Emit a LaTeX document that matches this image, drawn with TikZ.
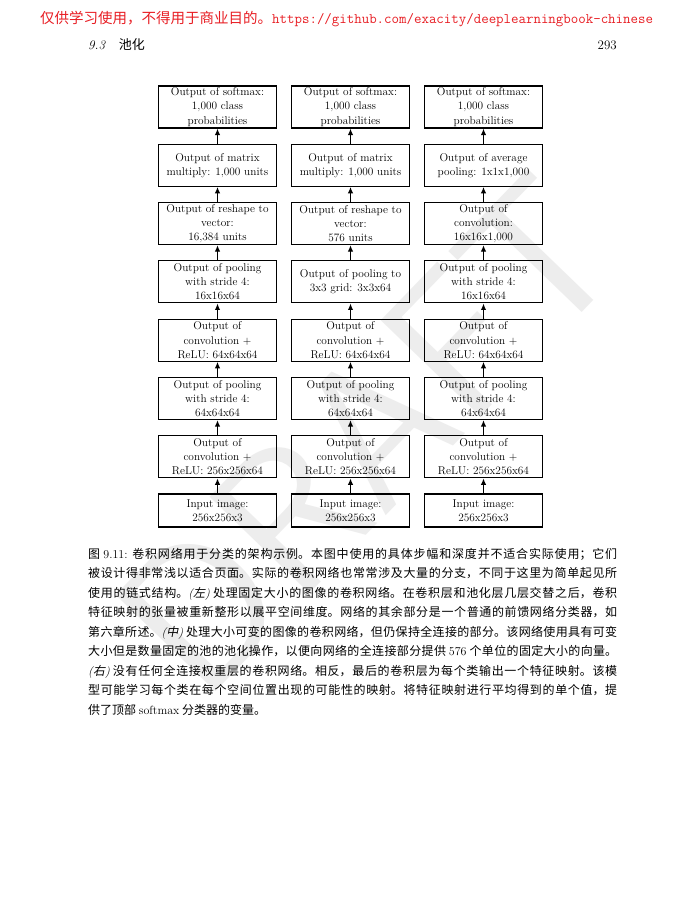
\documentclass[tikz,border=0pt]{standalone}
\usepackage{fontspec}
\usepackage{tikz}
\usepackage{xcolor}
\usetikzlibrary{
    arrows.meta,
    positioning
}
\newfontfamily\cjk{Noto Sans CJK SC}
\newfontfamily\cjkit{Noto Sans CJK SC}[FakeSlant=0.2]
\definecolor{urlred}{RGB}{232,30,36}
\newcommand{\sidelabel}[1]{{\rmfamily\itshape(}{\cjkit #1}{\rmfamily\itshape)}}
\tikzset{
    layer/.style={draw, line width=1.1pt, inner sep=0pt, minimum width=118pt,
        minimum height=42pt, align=center, font=\fontsize{11.3}{14.2}\selectfont},
    inlayer/.style={layer, minimum height=33pt},
    flow/.style={-{Latex[length=6.5pt, width=5.5pt]}, line width=1.3pt},
    watermark/.style={rotate=46, text=black!7, font=\fontsize{200}{200}\sffamily},
    captext/.style={anchor=base west, inner sep=0pt, text width=529pt, align=justify,
        font=\fontsize{12}{19.5}\selectfont\cjk}
}

\begin{document}
\begin{tikzpicture}[x=1pt, y=-1pt]
    \useasboundingbox (0,0) rectangle (700,900);
    \fill[white] (0,0) rectangle (700,900);
    \node[watermark] (wm) at (368,434) {DRAFT};

    \node[anchor=base west, inner sep=0pt, text=urlred, font=\fontsize{14.5}{14.5}\selectfont] (hd) at (40,23)
        {\cjk 仅供学习使用，不得用于商业目的。\ttfamily https://github.com/exacity/deeplearningbook-chinese};
    \node[anchor=base west, inner sep=0pt, font=\fontsize{13}{13}\selectfont] (sec) at (88,49)
        {\textit{9.3}\hspace{13pt}{\cjk 池化}};
    \node[anchor=base east, inner sep=0pt, font=\fontsize{13}{13}\selectfont] (pg) at (617,49) {293};

    \node[inlayer] (l1) at (217.5,510.5) {Input image:\\256x256x3};
    \node[layer] (l2) at (217.5,456.8) {Output of\\convolution $+$\\ReLU: 256x256x64};
    \node[layer] (l3) at (217.5,398.5) {Output of pooling\\with stride 4:\\64x64x64};
    \node[layer] (l4) at (217.5,340.2) {Output of\\convolution $+$\\ReLU: 64x64x64};
    \node[layer] (l5) at (217.5,281.9) {Output of pooling\\with stride 4:\\16x16x64};
    \node[layer] (l6) at (217.5,223.6) {Output of reshape to\\vector:\\16,384 units};
    \node[layer] (l7) at (217.5,165.3) {Output of matrix\\multiply: 1,000 units};
    \node[layer] (l8) at (217.5,107) {Output of softmax:\\1,000 class\\probabilities};

    \node[inlayer] (c1) at (350.5,510.5) {Input image:\\256x256x3};
    \node[layer] (c2) at (350.5,456.8) {Output of\\convolution $+$\\ReLU: 256x256x64};
    \node[layer] (c3) at (350.5,398.5) {Output of pooling\\with stride 4:\\64x64x64};
    \node[layer] (c4) at (350.5,340.2) {Output of\\convolution $+$\\ReLU: 64x64x64};
    \node[layer] (c5) at (350.5,281.9) {Output of pooling to\\3x3 grid: 3x3x64};
    \node[layer] (c6) at (350.5,223.6) {Output of reshape to\\vector:\\576 units};
    \node[layer] (c7) at (350.5,165.3) {Output of matrix\\multiply: 1,000 units};
    \node[layer] (c8) at (350.5,107) {Output of softmax:\\1,000 class\\probabilities};

    \node[inlayer] (r1) at (483.5,510.5) {Input image:\\256x256x3};
    \node[layer] (r2) at (483.5,456.8) {Output of\\convolution $+$\\ReLU: 256x256x64};
    \node[layer] (r3) at (483.5,398.5) {Output of pooling\\with stride 4:\\64x64x64};
    \node[layer] (r4) at (483.5,340.2) {Output of\\convolution $+$\\ReLU: 64x64x64};
    \node[layer] (r5) at (483.5,281.9) {Output of pooling\\with stride 4:\\16x16x64};
    \node[layer] (r6) at (483.5,223.6) {Output of\\convolution:\\16x16x1,000};
    \node[layer] (r7) at (483.5,165.3) {Output of average\\pooling: 1x1x1,000};
    \node[layer] (r8) at (483.5,107) {Output of softmax:\\1,000 class\\probabilities};

    \draw
    (l1) edge[flow] (l2)
    (l2) edge[flow] (l3)
    (l3) edge[flow] (l4)
    (l4) edge[flow] (l5)
    (l5) edge[flow] (l6)
    (l6) edge[flow] (l7)
    (l7) edge[flow] (l8);
    \draw
    (c1) edge[flow] (c2)
    (c2) edge[flow] (c3)
    (c3) edge[flow] (c4)
    (c4) edge[flow] (c5)
    (c5) edge[flow] (c6)
    (c6) edge[flow] (c7)
    (c7) edge[flow] (c8);
    \draw
    (r1) edge[flow] (r2)
    (r2) edge[flow] (r3)
    (r3) edge[flow] (r4)
    (r4) edge[flow] (r5)
    (r5) edge[flow] (r6)
    (r6) edge[flow] (r7)
    (r7) edge[flow] (r8);

    \node[captext] (cap) at (88,558) {\XeTeXlinebreaklocale "zh"\XeTeXlinebreakskip=0pt plus 2pt\XeTeXlinebreakpenalty=10000
图 {\rmfamily 9.11:} 卷积网络用于分类的架构示例。本图中使用的具体步幅和深度并不适合实际使用；它们\linebreak
被设计得非常浅以适合页面。实际的卷积网络也常常涉及大量的分支，不同于这里为简单起见所\linebreak
使用的链式结构。\sidelabel{左} 处理固定大小的图像的卷积网络。在卷积层和池化层几层交替之后，卷积\linebreak
特征映射的张量被重新整形以展平空间维度。网络的其余部分是一个普通的前馈网络分类器，如\linebreak
第六章所述。\sidelabel{中} 处理大小可变的图像的卷积网络，但仍保持全连接的部分。该网络使用具有可变\linebreak
大小但是数量固定的池的池化操作，以便向网络的全连接部分提供 {\rmfamily 576} 个单位的固定大小的向量。\linebreak
\sidelabel{右} 没有任何全连接权重层的卷积网络。相反，最后的卷积层为每个类输出一个特征映射。该模\linebreak
型可能学习每个类在每个空间位置出现的可能性的映射。将特征映射进行平均得到的单个值，提\linebreak
供了顶部 {\rmfamily softmax} 分类器的变量。};
\end{tikzpicture}
\end{document}
